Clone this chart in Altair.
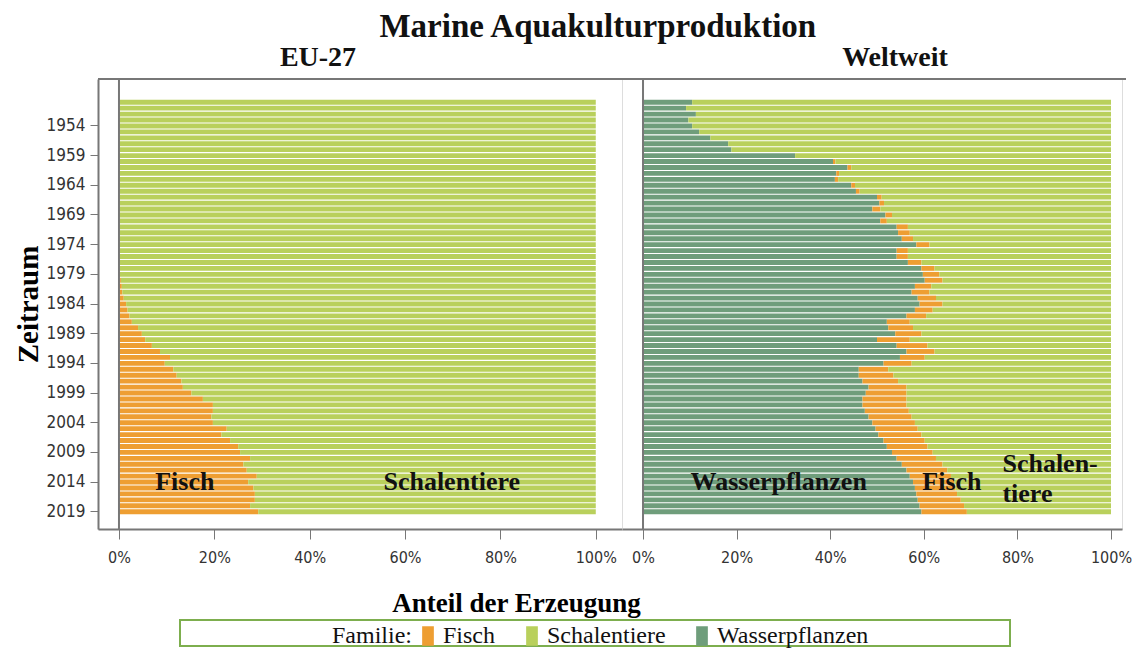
import altair as alt
import pandas as pd

# ---------------- data (shares in percent) ----------------
years = list(range(1950, 2020))

eu_fisch = [
    0, 0, 0, 0, 0, 0, 0, 0, 0, 0,            # 1950-1959
    0, 0, 0, 0, 0, 0, 0, 0, 0, 0,            # 1960-1969
    0, 0, 0, 0, 0, 0, 0, 0.1, 0.1, 0.2,      # 1970-1979
    0.4, 0.6, 0.7, 1.0, 1.5, 1.8, 2.2, 2.7, 4.0, 4.8,      # 1980-1989
    5.5, 6.9, 8.6, 10.7, 9.6, 11.4, 12.1, 13.1, 13.4, 15.2,  # 1990-1999
    17.6, 19.7, 19.7, 19.4, 19.7, 22.6, 21.5, 23.3, 25.0, 25.4,  # 2000-2009
    27.5, 26.1, 26.8, 28.9, 27.1, 28.2, 28.5, 28.5, 27.5, 29.2,  # 2010-2019
]

welt_wasser = [
    10.5, 9.2, 11.3, 9.7, 10.5, 12.0, 14.4, 18.2, 18.9, 32.5,   # 1950-1959
    40.6, 43.7, 41.3, 41.0, 44.5, 45.5, 50.0, 50.5, 49.0, 51.8, # 1960-1969
    50.7, 54.2, 54.5, 55.3, 58.4, 54.2, 54.2, 56.6, 59.5, 59.8, # 1970-1979
    60.2, 58.1, 57.4, 58.7, 59.1, 58.1, 56.3, 52.1, 52.4, 53.9, # 1980-1989
    50.0, 54.2, 56.3, 54.9, 51.4, 46.1, 46.1, 46.9, 48.2, 47.6, # 1990-1999
    46.9, 46.9, 47.4, 48.2, 49.0, 49.7, 50.3, 51.4, 52.1, 53.2, # 2000-2009
    54.2, 55.3, 56.3, 57.0, 57.7, 58.1, 58.4, 58.7, 59.1, 59.5, # 2010-2019
]

welt_fisch = [
    0, 0, 0, 0, 0, 0, 0, 0, 0, 0,                               # 1950-1959
    0.5, 0.8, 0.6, 0.7, 0.8, 0.8, 1.0, 1.0, 1.7, 1.4,           # 1960-1969
    1.4, 2.4, 2.5, 2.4, 2.8, 2.4, 2.4, 2.9, 2.8, 3.5,           # 1970-1979
    3.8, 3.5, 3.8, 3.9, 4.9, 3.8, 4.2, 4.9, 5.3, 5.6,           # 1980-1989
    7.0, 6.6, 6.0, 5.3, 6.0, 6.3, 7.4, 7.6, 8.1, 8.7,           # 1990-1999
    9.4, 9.4, 9.4, 9.2, 9.1, 9.0, 9.2, 8.8, 8.7, 8.7,           # 2000-2009
    8.4, 8.7, 8.7, 8.8, 8.8, 8.7, 8.7, 9.2, 9.5, 9.7,           # 2010-2019
]

familien = ["Fisch", "Schalentiere", "Wasserpflanzen"]
farben = ["#EE9E32", "#B9D05C", "#6F9D7B"]
stack_order = {"Wasserpflanzen": 0, "Fisch": 1, "Schalentiere": 2}

tick_years = [1954, 1959, 1964, 1969, 1974, 1979, 1984, 1989, 1994, 1999, 2004, 2009, 2014, 2019]
# y band domain, with a few empty years above and below to leave the frame gap
y_domain = list(range(1947, 2022))
x_ticks = [0, 0.2, 0.4, 0.6, 0.8, 1.0]

# annotation texts (position given in data units: share, year)
eu_labels = pd.DataFrame({
    "text": ["Fisch", "Schalentiere"],
    "Anteil": [0.138, 0.698],
    "Jahr": [2014, 2014],
})
welt_labels = pd.DataFrame({
    "text": ["Wasserpflanzen", "Fisch"],
    "Anteil": [0.29, 0.66],
    "Jahr": [2014, 2014],
})
welt_labels2 = pd.DataFrame({
    "text": ["Schalen-", "tiere"],
    "Anteil": [0.768, 0.768],
    "Jahr": [2011, 2016],
})

# ---------------- build table ----------------
rows = []
for i, y in enumerate(years):
    f = eu_fisch[i]
    rows.append({"Region": "EU-27", "Jahr": y, "Familie": "Fisch", "Anteil": f / 100})
    rows.append({"Region": "EU-27", "Jahr": y, "Familie": "Schalentiere", "Anteil": (100 - f) / 100})
    w, f2 = welt_wasser[i], welt_fisch[i]
    rows.append({"Region": "Weltweit", "Jahr": y, "Familie": "Wasserpflanzen", "Anteil": w / 100})
    rows.append({"Region": "Weltweit", "Jahr": y, "Familie": "Fisch", "Anteil": f2 / 100})
    rows.append({"Region": "Weltweit", "Jahr": y, "Familie": "Schalentiere", "Anteil": (100 - w - f2) / 100})
df = pd.DataFrame(rows)
df["Ord"] = df["Familie"].map(stack_order)

SERIF = "Liberation Serif"
SANS = "DejaVu Sans Condensed"
H = 450

yscale = alt.Scale(domain=y_domain, paddingInner=0.18, paddingOuter=0.5)
cscale = alt.Scale(domain=familien, range=farben)
TALL_RECT = "M-0.6,-1H0.6V1H-0.6Z"


def panel(region, labels_list, title_dx, first, width, xdomain, top_end):
    d = df[df["Region"] == region]
    xscale = alt.Scale(domain=xdomain, nice=False, zero=False)
    common = dict(labelFont=SANS, labelFontSize=16, labelColor="#333333",
                  tickColor="#777777", domainColor="#777777", domainWidth=2,
                  tickSize=10, labelPadding=10, grid=False, values=x_ticks, format=".0%")
    if first:
        yaxis = alt.Axis(values=tick_years, title="Zeitraum", titleFont=SERIF, titleFontSize=29,
                         titleFontWeight="bold", titlePadding=3, labelFont=SANS, labelFontSize=17,
                         labelColor="#333333", tickColor="#777777", domainColor="#777777",
                         domainWidth=2, tickSize=8, labelPadding=5, grid=False)
        xaxis = alt.Axis(title="Anteil der Erzeugung", titleFont=SERIF,
                         titleFontSize=27, titleFontWeight="bold", titleX=418, titleY=74,
                         titleAlign="center", titleBaseline="middle", **common)
    else:
        yaxis = None
        xaxis = alt.Axis(title=None, **common)

    bars = alt.Chart(d).mark_bar().encode(
        x=alt.X("Anteil:Q", stack="zero", scale=xscale, axis=xaxis),
        y=alt.Y("Jahr:O", scale=yscale, axis=yaxis),
        color=alt.Color("Familie:N", scale=cscale,
                        legend=alt.Legend(title="Familie:", orient="none", direction="horizontal",
                                          legendX=234, legendY=545, titleOrient="left",
                                          titleFont=SERIF, titleFontSize=24, titleFontWeight="normal",
                                          titleColor="#111111", titleBaseline="middle", titlePadding=4,
                                          labelFont=SERIF, labelFontSize=24, labelColor="#111111",
                                          symbolType=TALL_RECT, symbolSize=380, symbolStrokeWidth=0,
                                          symbolOpacity=1, columnPadding=24, labelOffset=3)),
        order=alt.Order("Ord:Q"),
        tooltip=["Jahr:O", "Familie:N", alt.Tooltip("Anteil:Q", format=".1%")],
    )

    zero_line = alt.Chart(pd.DataFrame({"v": [0]})).mark_rule(color="#777777", strokeWidth=2).encode(
        x=alt.X("v:Q", scale=xscale, axis=xaxis), y=alt.value(0), y2=alt.value(H)
    )
    top_line = alt.Chart(pd.DataFrame({"v": [0]})).mark_rule(color="#777777", strokeWidth=2).encode(
        x=alt.value(0), x2=alt.value(top_end), y=alt.value(0)
    )

    layers = [bars, zero_line, top_line]
    for lab, align in labels_list:
        layers.append(
            alt.Chart(lab).mark_text(font=SERIF, fontSize=26, fontWeight="bold", color="#111111",
                                     align=align, baseline="middle").encode(
                x=alt.X("Anteil:Q", scale=xscale, axis=xaxis),
                y=alt.Y("Jahr:O", scale=yscale, axis=yaxis),
                text="text:N",
            )
        )
    if first:
        box = alt.Chart(pd.DataFrame({"v": [0]})).mark_rect(fill="white", stroke="#7DAE4E",
                                                          strokeWidth=2).encode(
            x=alt.value(82), x2=alt.value(912), y=alt.value(541), y2=alt.value(567)
        )
        layers = [box] + layers

    return alt.layer(*layers).properties(
        width=width, height=H,
        title=alt.TitleParams(region, font=SERIF, fontSize=28, fontWeight="bold", color="#111111",
                              anchor="middle", dx=title_dx, offset=6),
    )


left = panel("EU-27", [(eu_labels, "center")], -42, True, 524, [-0.044, 1.055], 524)
right = panel("Weltweit", [(welt_labels, "center"), (welt_labels2, "left")], 23, False,
              500, [-0.0449, 1.0235], 504)

chart = alt.hconcat(left, right, spacing=0, bounds="flush").properties(
    title=alt.TitleParams("Marine Aquakulturproduktion", font=SERIF, fontSize=33, fontWeight="bold",
                          color="#111111", anchor="middle", dx=25, offset=0),
    padding={"left": 5, "top": 2, "right": 0, "bottom": 0},
).configure_view(stroke=None).configure(background="white")

chart.save("out.html", embed_options={"renderer": "svg", "actions": False})
